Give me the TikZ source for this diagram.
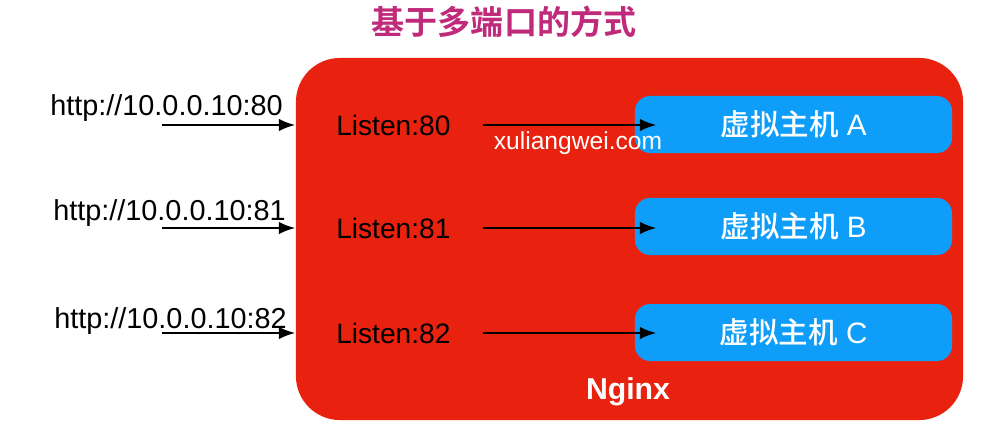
\documentclass[tikz,border=0pt]{standalone}
\usepackage{fontspec}
\setmainfont{Liberation Sans}
\newfontfamily\cjk{Noto Sans CJK SC Medium}
\newfontfamily\cjkbold{Noto Sans CJK SC Bold}
\usepackage{tikz}
\usetikzlibrary{arrows.meta, positioning, calc}

\definecolor{nginxred}{RGB}{232,34,14}
\definecolor{hostblue}{RGB}{14,158,250}
\definecolor{titlepink}{RGB}{192,42,122}

\begin{document}
\begin{tikzpicture}[x=0.025cm, y=-0.025cm, >={Latex[length=12pt, width=9pt]}]
      \useasboundingbox (0,0) rectangle (983,429);
      % Nodes
      \node[text=titlepink, font=\cjkbold\fontsize{23.5}{27}\selectfont] (title) at (504,22) {基于多端口的方式};
      \node[fill=nginxred, rounded corners=1.1cm, minimum width=16.675cm, minimum height=9.05cm] (nginx) at (629.5,239) {};
      \node[text=white, font=\bfseries\fontsize{21.5}{25}\selectfont] (nginxlabel) at (628,392) {Nginx};

      \node[fill=hostblue, rounded corners=0.38cm, minimum width=7.925cm, minimum height=1.425cm, text=white, font=\fontsize{21}{24}\selectfont] (hostA) at (793.5,124.5) {{\cjk 虚拟主机} A};
      \node[fill=hostblue, rounded corners=0.38cm, minimum width=7.925cm, minimum height=1.425cm, text=white, font=\fontsize{21}{24}\selectfont] (hostB) at (793.5,226.5) {{\cjk 虚拟主机} B};
      \node[fill=hostblue, rounded corners=0.38cm, minimum width=7.925cm, minimum height=1.425cm, text=white, font=\fontsize{21}{24}\selectfont] (hostC) at (793.5,332.5) {{\cjk 虚拟主机} C};

      \node[anchor=west, inner sep=0, font=\fontsize{20}{24}\selectfont] (listen80) at (336,125) {Listen:80};
      \node[anchor=west, inner sep=0, font=\fontsize{20}{24}\selectfont] (listen81) at (336,228) {Listen:81};
      \node[anchor=west, inner sep=0, font=\fontsize{20}{24}\selectfont] (listen82) at (336,333) {Listen:82};

      \node[anchor=west, inner sep=0, font=\fontsize{20.5}{24}\selectfont] (url80) at (50,108) {http://10.0.0.10:80};
      \node[anchor=west, inner sep=0, font=\fontsize{20.5}{24}\selectfont] (url81) at (53,213) {http://10.0.0.10:81};
      \node[anchor=west, inner sep=0, font=\fontsize{20.5}{24}\selectfont] (url82) at (54,321) {http://10.0.0.10:82};

      \node[text=white, font=\fontsize{17.5}{21}\selectfont] (mark) at (578,143) {xuliangwei.com};

      \coordinate (in80) at (162,125);
      \coordinate (in81) at (162,228);
      \coordinate (in82) at (162,333);

      % Arrows
      \draw[->, line width=2pt] (in80) -- (in80 -| nginx.west);
      \draw[->, line width=2pt] (in81) -- (in81 -| nginx.west);
      \draw[->, line width=2pt] (in82) -- (in82 -| nginx.west);
      \draw[->, line width=2pt] ([xshift=0.8cm]listen80.east) -- ([xshift=0.55cm]hostA.west |- listen80.east);
      \draw[->, line width=2pt] ([xshift=0.8cm]listen81.east) -- ([xshift=0.55cm]hostB.west |- listen81.east);
      \draw[->, line width=2pt] ([xshift=0.8cm]listen82.east) -- ([xshift=0.55cm]hostC.west |- listen82.east);
    \end{tikzpicture}
\end{document}
